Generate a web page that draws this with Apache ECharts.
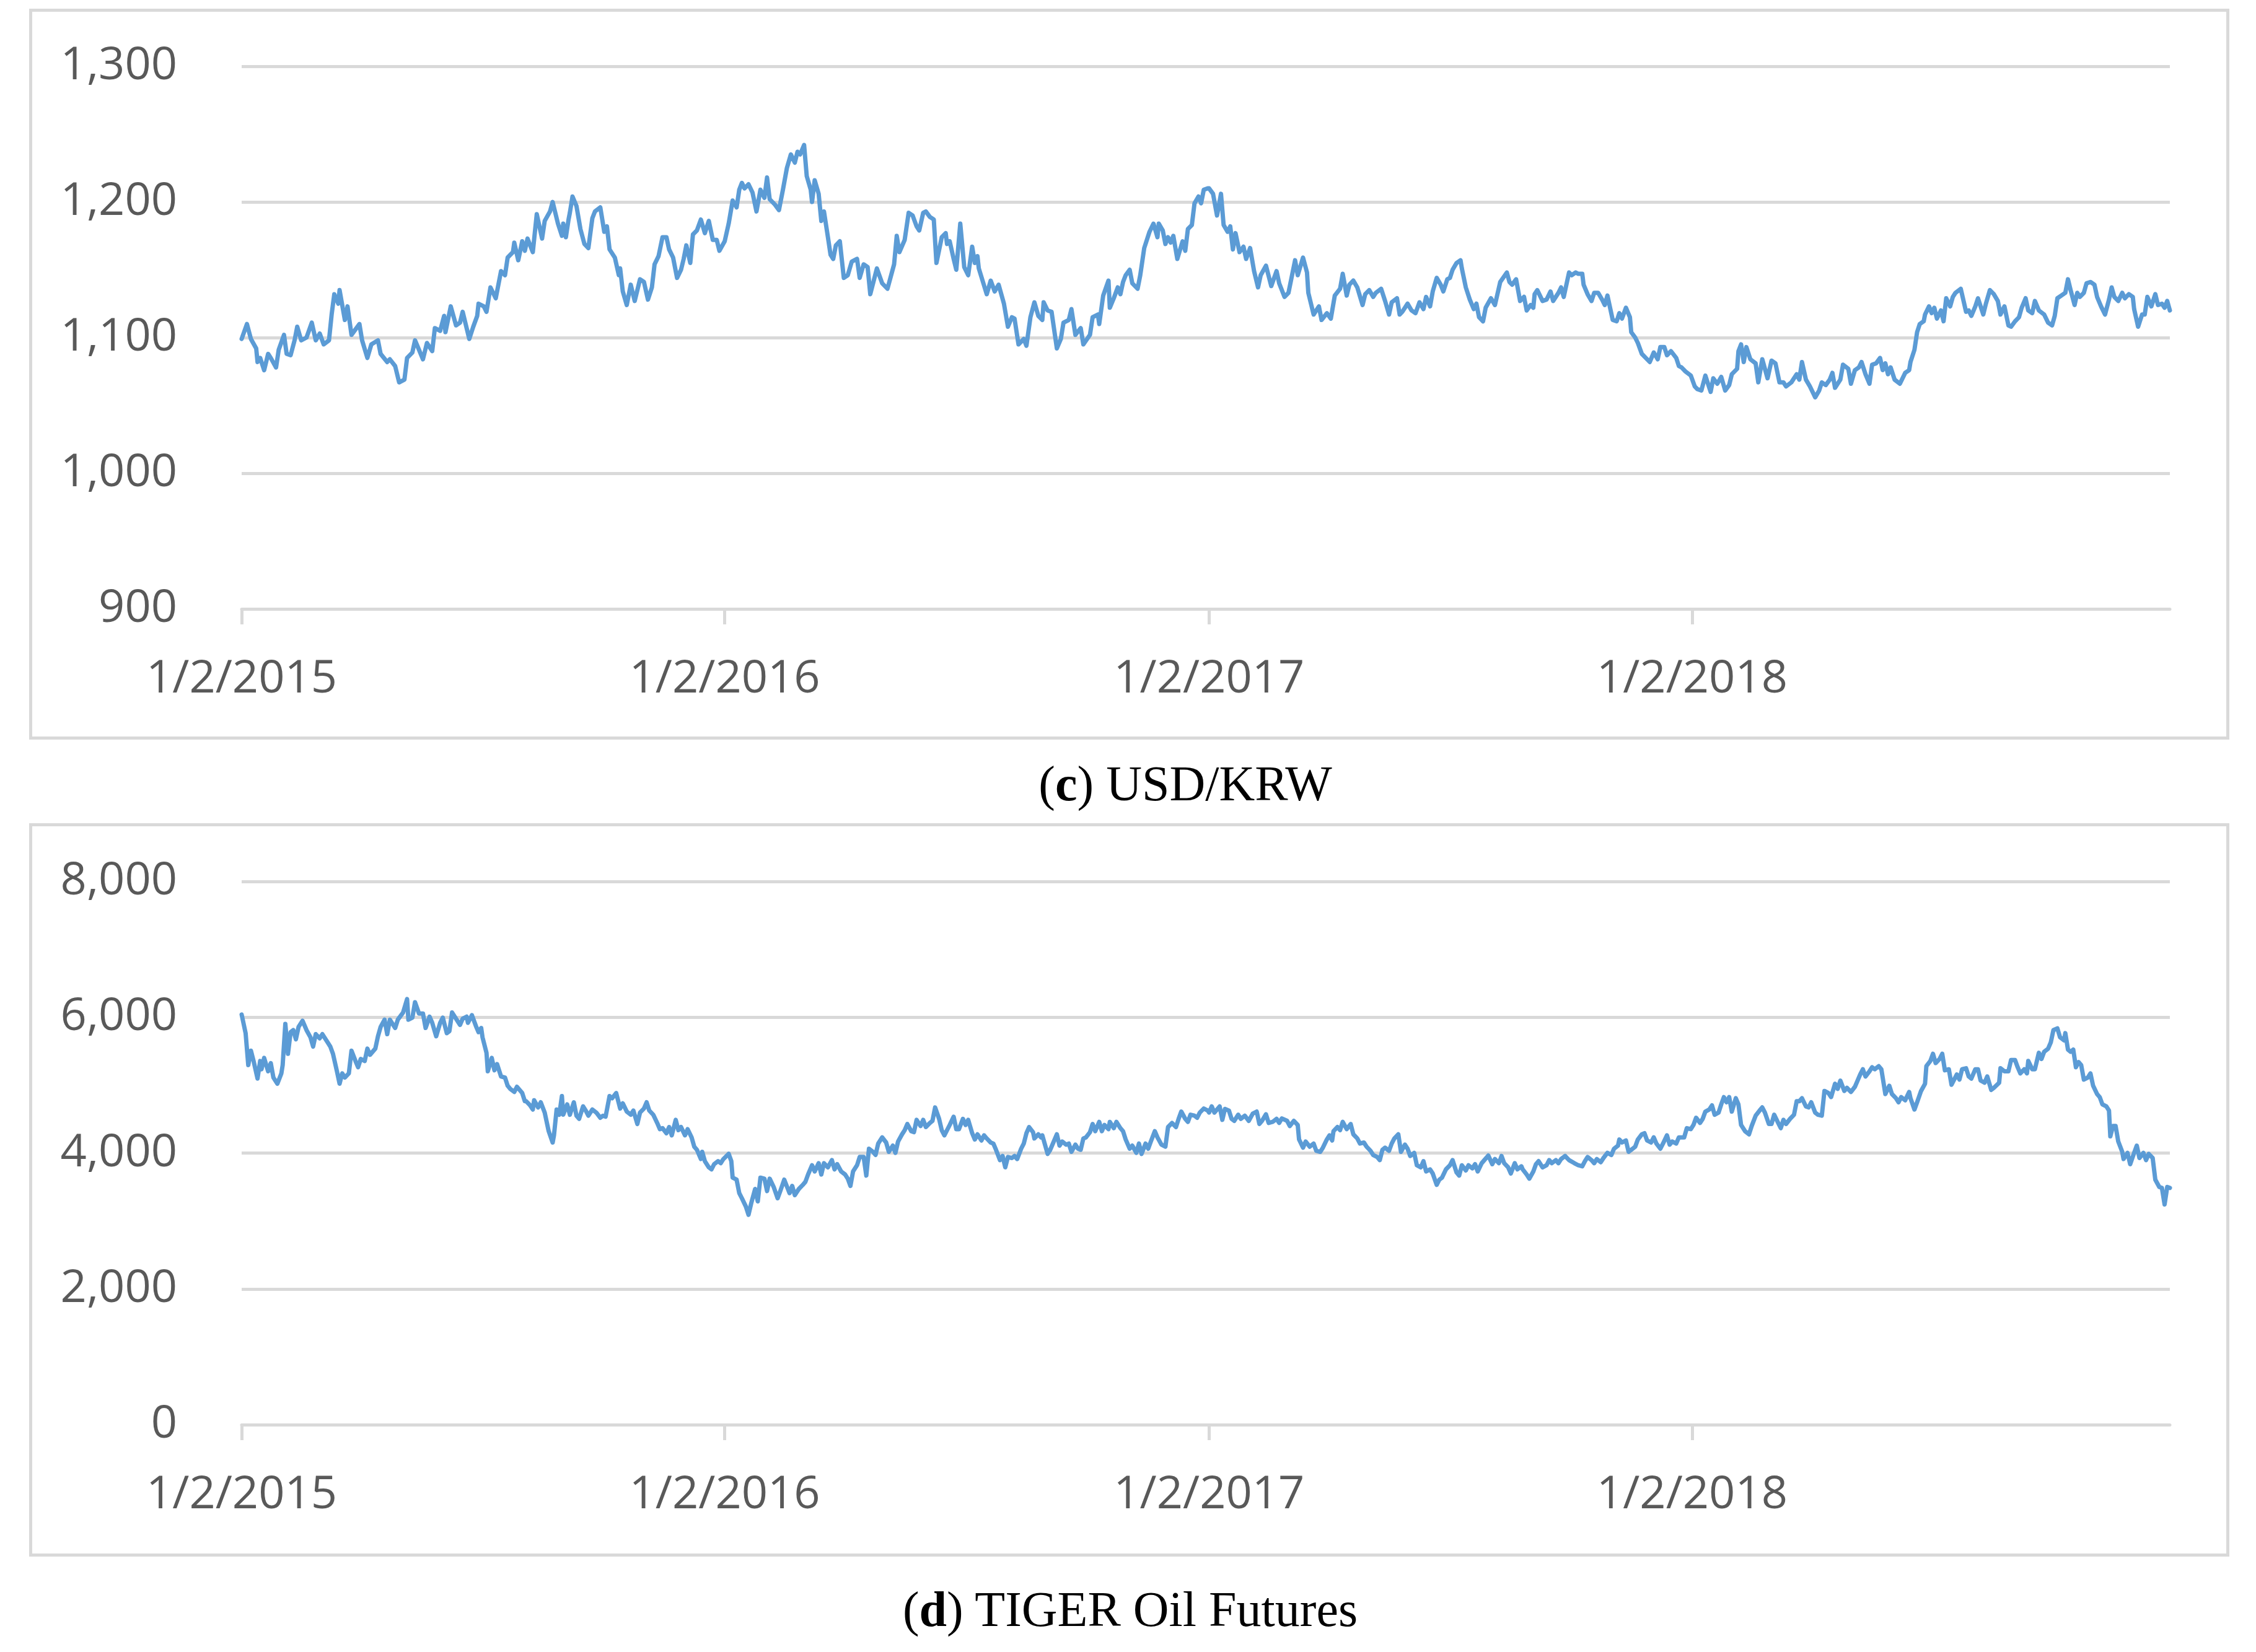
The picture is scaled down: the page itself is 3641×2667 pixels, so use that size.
<!DOCTYPE html>
<html>
<head>
<meta charset="utf-8">
<title>USD/KRW and TIGER Oil Futures</title>
<script src="https://cdn.jsdelivr.net/npm/echarts@6/dist/echarts.min.js"></script>
<style>
  html, body { margin: 0; padding: 0; background: #fff; }
  .page { position: relative; width: 3641px; height: 2667px; }
  /* 两个带灰框的面板 */
  .panel {
    position: absolute;
    left: 47px;
    width: 3551px;
    border: 5px solid #d9d9d9;
    box-sizing: border-box;
  }
  .panel .chart { width: 100%; height: 100%; }
  #panelC { top: 14px; height: 1180px; }
  #panelD { top: 1329px; height: 1184px; }
  .caption {
    position: absolute;
    width: 2000px;
    text-align: center;
    font-family: "Liberation Serif", serif;
    font-size: 80px;
    line-height: 80px;
    color: #000;
  }
  #capC { left: 913px; top: 1225px; }
  #capD { left: 824px; top: 2558px; }
</style>
</head>
<body>
<div class="page">
  <div class="panel" id="panelC"><div class="chart" id="usdChart"></div></div>
  <div class="caption" id="capC">(<b>c</b>) USD/KRW</div>
  <div class="panel" id="panelD"><div class="chart" id="oilChart"></div></div>
  <div class="caption" id="capD">(<b>d</b>) TIGER Oil Futures</div>
</div>

<script>
// x axis
const xTickLabels = ['1/2/2015', '1/2/2016', '1/2/2017', '1/2/2018'];
const xStart = '2015-01-02';
const xEnd = '2018-12-29';

// y axis ticks
const usdTicks = [900, 1000, 1100, 1200, 1300];
const oilTicks = [0, 2000, 4000, 6000, 8000];

// (c) USD/KRW
const usdDates = [
  '2015-01-02','2015-01-06','2015-01-09','2015-01-13','2015-01-14','2015-01-16','2015-01-19','2015-01-22','2015-01-24','2015-01-28','2015-01-30',
  '2015-02-03','2015-02-05','2015-02-08','2015-02-11','2015-02-13','2015-02-16','2015-02-20','2015-02-24','2015-02-27',
  '2015-03-02','2015-03-05','2015-03-09','2015-03-11','2015-03-13','2015-03-16','2015-03-17','2015-03-21','2015-03-23','2015-03-26','2015-03-29',
  '2015-04-01','2015-04-03','2015-04-07','2015-04-10','2015-04-15','2015-04-17','2015-04-22','2015-04-24','2015-04-28',
  '2015-05-01','2015-05-05','2015-05-07','2015-05-11','2015-05-13','2015-05-16','2015-05-19','2015-05-22','2015-05-26','2015-05-28',
  '2015-06-01','2015-06-04','2015-06-05','2015-06-09','2015-06-13','2015-06-16','2015-06-18','2015-06-21','2015-06-23','2015-06-26','2015-06-29','2015-06-30',
  '2015-07-04','2015-07-06','2015-07-09','2015-07-13','2015-07-17','2015-07-20','2015-07-22','2015-07-26','2015-07-27','2015-07-30',
  '2015-08-02','2015-08-04','2015-08-06','2015-08-10','2015-08-13','2015-08-17','2015-08-19','2015-08-23','2015-08-25','2015-08-29',
  '2015-09-01','2015-09-02','2015-09-04','2015-09-06','2015-09-07','2015-09-09','2015-09-12','2015-09-15','2015-09-18','2015-09-21','2015-09-24','2015-09-26','2015-09-30',
  '2015-10-03','2015-10-05','2015-10-07','2015-10-11','2015-10-14','2015-10-15','2015-10-17','2015-10-20','2015-10-23','2015-10-26','2015-10-30',
  '2015-11-02','2015-11-05','2015-11-08','2015-11-10','2015-11-13','2015-11-16','2015-11-19','2015-11-21','2015-11-24','2015-11-27','2015-11-30',
  '2015-12-02','2015-12-04','2015-12-07','2015-12-09','2015-12-12','2015-12-15','2015-12-18','2015-12-21','2015-12-24','2015-12-27','2015-12-29',
  '2016-01-02','2016-01-05','2016-01-08','2016-01-11','2016-01-13','2016-01-15','2016-01-17','2016-01-20','2016-01-23','2016-01-26','2016-01-29',
  '2016-02-01','2016-02-03','2016-02-05','2016-02-09','2016-02-12','2016-02-15','2016-02-18','2016-02-21','2016-02-24','2016-02-26','2016-02-28',
  '2016-03-02','2016-03-04','2016-03-07','2016-03-08','2016-03-10','2016-03-13','2016-03-15','2016-03-17','2016-03-20','2016-03-22','2016-03-24','2016-03-26','2016-03-29',
  '2016-04-01','2016-04-04','2016-04-07','2016-04-11','2016-04-13','2016-04-16','2016-04-19','2016-04-21','2016-04-26','2016-04-30',
  '2016-05-04','2016-05-09','2016-05-11','2016-05-13','2016-05-17','2016-05-20','2016-05-23','2016-05-26','2016-05-28','2016-05-31',
  '2016-06-02','2016-06-05','2016-06-08','2016-06-10','2016-06-14','2016-06-17','2016-06-18','2016-06-20','2016-06-23','2016-06-25','2016-06-28',
  '2016-07-01','2016-07-04','2016-07-07','2016-07-09','2016-07-11','2016-07-12','2016-07-18','2016-07-21','2016-07-24','2016-07-27','2016-07-31',
  '2016-08-03','2016-08-06','2016-08-08','2016-08-11','2016-08-15','2016-08-17','2016-08-20','2016-08-23','2016-08-26','2016-08-29','2016-08-30',
  '2016-09-02','2016-09-05','2016-09-09','2016-09-12','2016-09-14','2016-09-18','2016-09-20','2016-09-23','2016-09-27','2016-09-29',
  '2016-10-04','2016-10-06','2016-10-10','2016-10-11','2016-10-14','2016-10-18','2016-10-19','2016-10-22','2016-10-25','2016-10-27','2016-10-29','2016-10-31',
  '2016-11-03','2016-11-05','2016-11-09','2016-11-11','2016-11-14','2016-11-18','2016-11-21','2016-11-24','2016-11-25','2016-11-28','2016-11-30',
  '2016-12-02','2016-12-04','2016-12-06','2016-12-09','2016-12-13','2016-12-15','2016-12-17','2016-12-20','2016-12-22','2016-12-25','2016-12-27','2016-12-29',
  '2017-01-01','2017-01-02','2017-01-05','2017-01-08','2017-01-11','2017-01-13','2017-01-16','2017-01-18','2017-01-20','2017-01-22','2017-01-25','2017-01-28','2017-01-30',
  '2017-02-02','2017-02-05','2017-02-08','2017-02-10','2017-02-14','2017-02-18','2017-02-22','2017-02-24','2017-02-28',
  '2017-03-03','2017-03-08','2017-03-10','2017-03-14','2017-03-17','2017-03-18','2017-03-22','2017-03-26','2017-03-28',
  '2017-04-01','2017-04-04','2017-04-07','2017-04-11','2017-04-13','2017-04-16','2017-04-18','2017-04-21','2017-04-24','2017-04-28','2017-04-30',
  '2017-05-03','2017-05-06','2017-05-08','2017-05-12','2017-05-15','2017-05-18','2017-05-20','2017-05-24','2017-05-26','2017-05-28',
  '2017-06-01','2017-06-04','2017-06-07','2017-06-10','2017-06-13','2017-06-15','2017-06-18','2017-06-20','2017-06-23','2017-06-26','2017-06-28',
  '2017-07-01','2017-07-03','2017-07-05','2017-07-08','2017-07-11','2017-07-12','2017-07-15','2017-07-18','2017-07-21','2017-07-23','2017-07-25','2017-07-28','2017-07-30',
  '2017-08-03','2017-08-06','2017-08-10','2017-08-15','2017-08-17','2017-08-19','2017-08-22','2017-08-25','2017-08-28','2017-08-30',
  '2017-09-02','2017-09-04','2017-09-05','2017-09-07','2017-09-11','2017-09-14','2017-09-17','2017-09-19','2017-09-23','2017-09-25','2017-09-27',
  '2017-10-01','2017-10-03','2017-10-06','2017-10-08','2017-10-11','2017-10-12','2017-10-15','2017-10-18','2017-10-20','2017-10-23','2017-10-26','2017-10-28','2017-10-30',
  '2017-11-03','2017-11-06','2017-11-08','2017-11-10','2017-11-13','2017-11-16','2017-11-17','2017-11-20','2017-11-22','2017-11-25','2017-11-28',
  '2017-12-01','2017-12-04','2017-12-07','2017-12-09','2017-12-12','2017-12-14','2017-12-17','2017-12-21','2017-12-23','2017-12-25','2017-12-28',
  '2018-01-01','2018-01-04','2018-01-06','2018-01-09','2018-01-12','2018-01-16','2018-01-18','2018-01-21','2018-01-24','2018-01-27','2018-01-30',
  '2018-02-01','2018-02-05','2018-02-06','2018-02-08','2018-02-10','2018-02-12','2018-02-15','2018-02-19','2018-02-21','2018-02-24','2018-02-28',
  '2018-03-03','2018-03-06','2018-03-09','2018-03-12','2018-03-14','2018-03-18','2018-03-22','2018-03-24','2018-03-26','2018-03-29',
  '2018-04-01','2018-04-05','2018-04-08','2018-04-10','2018-04-13','2018-04-16','2018-04-18','2018-04-20','2018-04-24','2018-04-26','2018-04-30',
  '2018-05-02','2018-05-05','2018-05-08','2018-05-10','2018-05-13','2018-05-16','2018-05-18','2018-05-21','2018-05-24','2018-05-26','2018-05-28','2018-05-30',
  '2018-06-01','2018-06-04','2018-06-08','2018-06-12','2018-06-15','2018-06-16','2018-06-19','2018-06-21','2018-06-23','2018-06-26','2018-06-27','2018-06-30',
  '2018-07-02','2018-07-04','2018-07-06','2018-07-09','2018-07-11','2018-07-13','2018-07-16','2018-07-18','2018-07-20','2018-07-24','2018-07-28','2018-07-30',
  '2018-08-01','2018-08-04','2018-08-06','2018-08-10','2018-08-12','2018-08-15','2018-08-18','2018-08-21','2018-08-23','2018-08-26','2018-08-29','2018-08-31',
  '2018-09-03','2018-09-06','2018-09-08','2018-09-11','2018-09-13','2018-09-16','2018-09-18','2018-09-21','2018-09-25','2018-09-28',
  '2018-10-01','2018-10-03','2018-10-05','2018-10-08','2018-10-11','2018-10-13','2018-10-15','2018-10-18','2018-10-20','2018-10-22','2018-10-25','2018-10-27','2018-10-30',
  '2018-11-02','2018-11-04','2018-11-07','2018-11-10','2018-11-13','2018-11-15','2018-11-17','2018-11-20','2018-11-23','2018-11-25','2018-11-28',
  '2018-12-01','2018-12-02','2018-12-05','2018-12-08','2018-12-10','2018-12-12','2018-12-15','2018-12-18','2018-12-20','2018-12-23','2018-12-25','2018-12-27','2018-12-29'
];
const usdKrw = [
  1099,1110,1099,1092,1082,1085,1076,1088,1085,1078,1091,
  1102,1088,1087,1098,1108,1098,1100,1111,1098,
  1103,1095,1098,1117,1132,1125,1135,1113,1123,1102,1106,
  1110,1098,1085,1095,1098,1088,1082,1084,1079,
  1067,1069,1085,1089,1098,1091,1084,1096,1090,1107,
  1105,1116,1104,1123,1109,1111,1119,1107,1099,1108,1116,1125,
  1123,1119,1137,1129,1149,1146,1159,1163,1170,1157,
  1171,1164,1173,1163,1191,1173,1186,1193,1200,1184,
  1175,1184,1174,1187,1192,1204,1197,1180,1169,1166,1188,1193,1196,
  1178,1182,1165,1159,1146,1151,1134,1124,1139,1127,1143,
  1141,1128,1137,1154,1160,1174,1174,1165,1159,1144,1150,
  1158,1168,1155,1176,1179,1187,1177,1186,1172,1172,1164,
  1171,1184,1201,1196,1209,1214,1210,1213,1207,1193,1209,
  1203,1218,1202,1198,1194,1209,1225,1235,1229,1237,1235,
  1242,1219,1209,1200,1216,1206,1186,1193,1174,1161,1158,1168,1171,
  1144,1146,1156,1158,1144,1154,1152,1132,1151,1140,
  1136,1154,1175,1163,1172,1192,1190,1182,1179,1192,
  1193,1189,1187,1155,1174,1177,1169,1171,1158,1150,1184,
  1152,1146,1167,1155,1160,1151,1132,1142,1134,1139,1125,
  1108,1115,1114,1095,1099,1094,1115,1126,1116,1113,1126,
  1120,1119,1092,1099,1111,1113,1121,1102,1107,1095,
  1102,1115,1117,1110,1131,1142,1122,1129,1137,1132,1141,1146,
  1150,1140,1136,1146,1166,1178,1184,1174,1184,1179,1169,
  1174,1170,1175,1158,1171,1164,1180,1183,1199,1204,1199,1209,
  1210,1210,1206,1190,1206,1183,1178,1182,1165,1177,1163,1167,1158,
  1166,1149,1137,1146,1153,1138,1149,1140,1130,
  1133,1157,1146,1159,1148,1133,1117,1123,1113,
  1118,1114,1131,1136,1147,1131,1139,1142,1137,1124,1132,
  1135,1130,1133,1136,1127,1117,1126,1129,1117,1119,
  1125,1120,1118,1126,1121,1130,1123,1134,1144,1139,1134,
  1143,1144,1150,1155,1157,1151,1137,1128,1121,1125,1115,1112,1122,
  1129,1124,1141,1148,1141,1139,1143,1127,1130,1120,
  1124,1122,1132,1135,1127,1128,1134,1127,1133,1137,1130,
  1148,1146,1148,1147,1147,1139,1132,1127,1133,1133,1128,1124,1131,
  1113,1112,1118,1114,1122,1115,1104,1100,1096,1088,1085,
  1082,1089,1084,1093,1093,1087,1090,1085,1079,1078,1075,
  1072,1064,1062,1061,1072,1060,1070,1066,1071,1061,1065,
  1073,1077,1090,1095,1082,1093,1084,1081,1067,1084,1070,
  1083,1081,1067,1067,1064,1067,1073,1069,1082,1069,
  1064,1056,1061,1067,1065,1069,1074,1063,1069,1080,1077,
  1066,1076,1078,1082,1073,1066,1080,1081,1085,1076,1081,1073,
  1078,1069,1066,1074,1076,1082,1091,1104,1110,1112,1117,1123,
  1118,1122,1114,1120,1112,1129,1123,1130,1133,1136,1119,1120,
  1116,1123,1129,1117,1125,1135,1132,1127,1117,1123,1109,1108,
  1112,1115,1122,1129,1120,1118,1127,1120,1117,1111,
  1109,1116,1129,1131,1133,1143,1135,1124,1133,1130,1133,1140,1141,
  1139,1130,1123,1117,1128,1137,1130,1127,1133,1129,1132,
  1130,1121,1108,1117,1117,1130,1123,1132,1124,1125,1122,1127,1120
];

// (d) TIGER Oil Futures
const oilDates = [
  '2015-01-02','2015-01-05','2015-01-07','2015-01-09','2015-01-11','2015-01-14','2015-01-16','2015-01-17','2015-01-19','2015-01-22','2015-01-24','2015-01-26','2015-01-29',
  '2015-02-01','2015-02-02','2015-02-04','2015-02-06','2015-02-08','2015-02-10','2015-02-12','2015-02-14','2015-02-17','2015-02-20','2015-02-23','2015-02-25','2015-02-27',
  '2015-03-02','2015-03-04','2015-03-08','2015-03-10','2015-03-12','2015-03-15','2015-03-17','2015-03-19','2015-03-21','2015-03-24','2015-03-26','2015-03-29','2015-03-31',
  '2015-04-02','2015-04-05','2015-04-07','2015-04-09','2015-04-13','2015-04-15','2015-04-17','2015-04-20','2015-04-22','2015-04-24','2015-04-28','2015-04-30',
  '2015-05-04','2015-05-07','2015-05-08','2015-05-11','2015-05-13','2015-05-16','2015-05-19','2015-05-21','2015-05-24','2015-05-26','2015-05-29',
  '2015-06-01','2015-06-03','2015-06-06','2015-06-08','2015-06-10','2015-06-13','2015-06-16','2015-06-18','2015-06-21','2015-06-22','2015-06-25','2015-06-28','2015-06-30',
  '2015-07-02','2015-07-03','2015-07-06','2015-07-07','2015-07-10','2015-07-12','2015-07-14','2015-07-17','2015-07-20','2015-07-22','2015-07-24','2015-07-27','2015-07-29',
  '2015-08-02','2015-08-04','2015-08-05','2015-08-08','2015-08-10','2015-08-11','2015-08-14','2015-08-16','2015-08-19','2015-08-22','2015-08-25','2015-08-26','2015-08-28','2015-08-30',
  '2015-09-01','2015-09-02','2015-09-05','2015-09-07','2015-09-10','2015-09-12','2015-09-14','2015-09-17','2015-09-19','2015-09-21','2015-09-24','2015-09-27','2015-09-30',
  '2015-10-02','2015-10-04','2015-10-07','2015-10-09','2015-10-12','2015-10-15','2015-10-17','2015-10-20','2015-10-23','2015-10-25','2015-10-28','2015-10-30',
  '2015-11-02','2015-11-04','2015-11-06','2015-11-09','2015-11-12','2015-11-14','2015-11-16','2015-11-19','2015-11-21','2015-11-23','2015-11-26','2015-11-28','2015-11-30',
  '2015-12-03','2015-12-05','2015-12-08','2015-12-10','2015-12-12','2015-12-15','2015-12-16','2015-12-18','2015-12-21','2015-12-23','2015-12-25','2015-12-28','2015-12-30',
  '2016-01-01','2016-01-05','2016-01-07','2016-01-08','2016-01-11','2016-01-13','2016-01-15','2016-01-18','2016-01-20','2016-01-22','2016-01-25','2016-01-27','2016-01-29',
  '2016-02-01','2016-02-03','2016-02-05','2016-02-08','2016-02-11','2016-02-13','2016-02-16','2016-02-20','2016-02-22','2016-02-24','2016-02-27',
  '2016-03-01','2016-03-03','2016-03-05','2016-03-08','2016-03-10','2016-03-13','2016-03-15','2016-03-17','2016-03-20','2016-03-23','2016-03-25','2016-03-27','2016-03-30',
  '2016-04-02','2016-04-04','2016-04-06','2016-04-08','2016-04-11','2016-04-13','2016-04-16','2016-04-18','2016-04-20','2016-04-23','2016-04-25','2016-04-27','2016-04-30',
  '2016-05-03','2016-05-05','2016-05-08','2016-05-10','2016-05-12','2016-05-15','2016-05-17','2016-05-19','2016-05-22','2016-05-24','2016-05-26','2016-05-29','2016-05-31',
  '2016-06-02','2016-06-05','2016-06-07','2016-06-09','2016-06-12','2016-06-14','2016-06-16','2016-06-20','2016-06-23','2016-06-25','2016-06-27','2016-06-30',
  '2016-07-02','2016-07-04','2016-07-07','2016-07-09','2016-07-11','2016-07-14','2016-07-16','2016-07-18','2016-07-21','2016-07-23','2016-07-25','2016-07-28','2016-07-30',
  '2016-08-01','2016-08-03','2016-08-06','2016-08-08','2016-08-10','2016-08-13','2016-08-15','2016-08-17','2016-08-19','2016-08-22','2016-08-23','2016-08-26','2016-08-28','2016-08-29',
  '2016-09-02','2016-09-04','2016-09-06','2016-09-09','2016-09-11','2016-09-13','2016-09-16','2016-09-18','2016-09-20','2016-09-23','2016-09-25','2016-09-27','2016-09-29',
  '2016-10-01','2016-10-04','2016-10-06','2016-10-08','2016-10-11','2016-10-13','2016-10-15','2016-10-18','2016-10-19','2016-10-22','2016-10-24','2016-10-27','2016-10-29','2016-10-31',
  '2016-11-03','2016-11-05','2016-11-08','2016-11-10','2016-11-12','2016-11-15','2016-11-17','2016-11-19','2016-11-22','2016-11-24','2016-11-27','2016-11-30',
  '2016-12-02','2016-12-05','2016-12-08','2016-12-10','2016-12-12','2016-12-15','2016-12-17','2016-12-19','2016-12-22','2016-12-24','2016-12-26','2016-12-29',
  '2017-01-01','2017-01-02','2017-01-04','2017-01-06','2017-01-10','2017-01-12','2017-01-14','2017-01-17','2017-01-19','2017-01-21','2017-01-24','2017-01-26','2017-01-29',
  '2017-02-01','2017-02-04','2017-02-07','2017-02-09','2017-02-11','2017-02-14','2017-02-16','2017-02-19','2017-02-22','2017-02-24','2017-02-26',
  '2017-03-02','2017-03-04','2017-03-07','2017-03-10','2017-03-11','2017-03-14','2017-03-16','2017-03-19','2017-03-22','2017-03-24','2017-03-27','2017-03-29',
  '2017-04-01','2017-04-03','2017-04-05','2017-04-06','2017-04-09','2017-04-11','2017-04-13','2017-04-16','2017-04-19','2017-04-21','2017-04-24','2017-04-26','2017-04-29',
  '2017-05-01','2017-05-04','2017-05-06','2017-05-09','2017-05-11','2017-05-13','2017-05-15','2017-05-18','2017-05-20','2017-05-22','2017-05-25','2017-05-27','2017-05-30',
  '2017-06-01','2017-06-03','2017-06-06','2017-06-08','2017-06-11','2017-06-13','2017-06-15','2017-06-18','2017-06-20','2017-06-23','2017-06-25','2017-06-27','2017-06-30',
  '2017-07-03','2017-07-05','2017-07-08','2017-07-10','2017-07-12','2017-07-15','2017-07-17','2017-07-20','2017-07-22','2017-07-24','2017-07-27','2017-07-29',
  '2017-08-01','2017-08-04','2017-08-06','2017-08-09','2017-08-11','2017-08-13','2017-08-16','2017-08-18','2017-08-21','2017-08-23','2017-08-26','2017-08-27','2017-08-30',
  '2017-09-01','2017-09-04','2017-09-06','2017-09-08','2017-09-11','2017-09-14','2017-09-16','2017-09-18','2017-09-21','2017-09-23','2017-09-25','2017-09-28',
  '2017-10-01','2017-10-05','2017-10-08','2017-10-11','2017-10-13','2017-10-15','2017-10-18','2017-10-20','2017-10-22','2017-10-25','2017-10-27','2017-10-30',
  '2017-11-02','2017-11-04','2017-11-07','2017-11-08','2017-11-10','2017-11-13','2017-11-15','2017-11-17','2017-11-20','2017-11-22','2017-11-25','2017-11-27','2017-11-29',
  '2017-12-02','2017-12-04','2017-12-06','2017-12-09','2017-12-11','2017-12-14','2017-12-16','2017-12-18','2017-12-21','2017-12-23','2017-12-27','2017-12-29',
  '2018-01-01','2018-01-03','2018-01-05','2018-01-08','2018-01-10','2018-01-12','2018-01-15','2018-01-17','2018-01-19','2018-01-22','2018-01-24','2018-01-26','2018-01-28','2018-01-30',
  '2018-02-01','2018-02-04','2018-02-06','2018-02-08','2018-02-11','2018-02-14','2018-02-16','2018-02-19','2018-02-22','2018-02-24','2018-02-26',
  '2018-03-01','2018-03-03','2018-03-05','2018-03-08','2018-03-10','2018-03-12','2018-03-14','2018-03-17','2018-03-20','2018-03-22','2018-03-24','2018-03-26','2018-03-29','2018-03-31',
  '2018-04-02','2018-04-05','2018-04-07','2018-04-10','2018-04-12','2018-04-15','2018-04-17','2018-04-20','2018-04-22','2018-04-24','2018-04-27','2018-04-29',
  '2018-05-02','2018-05-05','2018-05-07','2018-05-09','2018-05-11','2018-05-13','2018-05-16','2018-05-18','2018-05-20','2018-05-23','2018-05-25','2018-05-28','2018-05-31',
  '2018-06-02','2018-06-05','2018-06-07','2018-06-09','2018-06-12','2018-06-15','2018-06-16','2018-06-19','2018-06-21','2018-06-24','2018-06-27','2018-06-28',
  '2018-07-01','2018-07-03','2018-07-05','2018-07-08','2018-07-10','2018-07-12','2018-07-15','2018-07-17','2018-07-21','2018-07-23','2018-07-25','2018-07-28','2018-07-30',
  '2018-08-01','2018-08-04','2018-08-06','2018-08-08','2018-08-11','2018-08-13','2018-08-16','2018-08-18','2018-08-22','2018-08-23','2018-08-26','2018-08-29','2018-08-31',
  '2018-09-03','2018-09-05','2018-09-07','2018-09-10','2018-09-12','2018-09-13','2018-09-16','2018-09-18','2018-09-21','2018-09-23','2018-09-25','2018-09-28','2018-09-30',
  '2018-10-02','2018-10-05','2018-10-07','2018-10-10','2018-10-11','2018-10-13','2018-10-15','2018-10-17','2018-10-19','2018-10-21','2018-10-23','2018-10-25','2018-10-28','2018-10-30',
  '2018-11-01','2018-11-04','2018-11-06','2018-11-08','2018-11-11','2018-11-13','2018-11-14','2018-11-16','2018-11-18','2018-11-20','2018-11-23','2018-11-24','2018-11-27','2018-11-29',
  '2018-12-02','2018-12-04','2018-12-06','2018-12-09','2018-12-11','2018-12-13','2018-12-16','2018-12-18','2018-12-21','2018-12-23','2018-12-25','2018-12-27','2018-12-29'
];
const tigerOil = [
  6040,5766,5295,5508,5356,5097,5356,5234,5401,5204,5325,5112,5021,
  5173,5295,5903,5462,5781,5811,5675,5857,5948,5811,5705,5568,5751,
  5690,5751,5629,5568,5462,5204,5021,5173,5112,5173,5508,5356,5264,
  5386,5356,5538,5447,5538,5720,5857,5964,5751,5964,5842,5964,
  6070,6268,5964,5994,6222,6055,6055,5842,6009,5918,5720,
  5918,5994,5766,5796,6070,5979,5888,5979,6009,5918,6030,5872,5781,
  5842,5705,5477,5204,5401,5219,5310,5128,5112,4991,4945,4900,4976,
  4884,4763,4763,4702,4641,4778,4672,4748,4596,4322,4155,4261,4641,4565,
  4839,4565,4717,4565,4748,4550,4504,4687,4626,4550,4641,4596,4520,
  4550,4535,4839,4808,4884,4656,4732,4611,4565,4626,4428,4596,
  4656,4748,4626,4565,4443,4352,4367,4292,4383,4261,4489,4337,4383,
  4261,4352,4231,4094,4048,3912,4018,3881,3790,3760,3836,3881,3851,
  3912,3988,3881,3638,3608,3410,3334,3212,3091,3258,3471,3288,3638,
  3623,3440,3623,3501,3334,3440,3608,3410,3516,3380,3471,
  3531,3577,3684,3820,3729,3851,3684,3851,3790,3896,3760,3836,3729,
  3684,3623,3516,3729,3820,3942,3942,3668,4064,4018,3972,4140,4231,
  4155,4018,4109,4003,4170,4276,4337,4428,4322,4307,4489,4398,4489,
  4383,4443,4474,4672,4504,4337,4261,4413,4535,4352,4352,4504,
  4413,4489,4292,4200,4276,4185,4261,4215,4155,4140,4048,3896,3957,
  3790,3942,3927,3957,3912,4064,4140,4292,4383,4307,4215,4276,4231,4261,
  3988,4048,4140,4276,4109,4170,4124,4140,4018,4124,4064,4048,4215,
  4231,4307,4428,4322,4459,4322,4413,4352,4459,4367,4459,4367,4322,4200,
  4064,4109,4003,4140,3988,4140,4064,4170,4322,4231,4124,4094,
  4383,4443,4383,4504,4611,4504,4459,4565,4550,4520,4596,4656,
  4626,4596,4687,4596,4687,4489,4650,4626,4504,4474,4565,4504,4550,
  4474,4580,4611,4428,4474,4571,4444,4459,4504,4444,4510,
  4474,4398,4474,4413,4200,4079,4170,4094,4140,4033,4018,4079,
  4200,4261,4185,4322,4383,4337,4459,4352,4428,4276,4215,4140,4155,
  4094,4033,3972,3942,3896,4048,4079,4033,4140,4215,4276,4018,4124,
  4064,3957,4003,3820,3790,3881,3729,3760,3699,3532,3608,3638,3760,
  3820,3896,3714,3668,3820,3744,3820,3775,3836,3729,3851,3896,
  3963,3836,3912,3851,3957,3851,3790,3699,3851,3760,3805,3760,3684,
  3623,3729,3836,3881,3790,3820,3896,3851,3896,3851,3912,3957,
  3896,3851,3820,3805,3881,3942,3896,3851,3912,3866,3927,4003,
  3972,4064,4109,4200,4155,4185,4018,4048,4094,4200,4276,4292,4185,
  4155,4231,4140,4064,4140,4261,4124,4170,4140,4231,4231,4367,
  4352,4413,4520,4444,4504,4611,4641,4702,4565,4596,4717,4824,4748,4824,
  4611,4808,4717,4413,4322,4276,4398,4550,4626,4672,4596,
  4428,4428,4565,4444,4367,4489,4428,4504,4565,4763,4763,4808,4687,4672,
  4748,4596,4565,4550,4915,4884,4824,5021,4945,5067,4915,4960,
  4900,4976,5067,5158,5234,5128,5204,5264,5234,5280,5234,4869,4991,
  4869,4808,4748,4824,4778,4900,4808,4641,4748,4915,5021,5280,
  5356,5462,5325,5386,5462,5219,5234,5006,5158,5082,5234,5249,5128,
  5097,5234,5234,5067,5036,5128,4930,4960,5036,5249,5204,5204,5371,
  5371,5264,5173,5234,5173,5356,5234,5234,5477,5386,5492,5538,5629,
  5811,5836,5705,5660,5766,5523,5492,5523,5264,5340,5295,5082,5112,5173,
  4991,4869,4824,4717,4687,4626,4246,4398,4398,4170,4018,3912,4003,3836,
  4003,4109,3927,4003,3896,3988,3927,3608,3501,3486,3243,3501,3486
];

function toTime(s) {
  // 'YYYY-MM-DD' 或 'M/D/YYYY' -> 本地时间戳
  let y, m, d;
  if (s.indexOf('/') > 0) {
    [m, d, y] = s.split('/').map(Number);
  } else {
    [y, m, d] = s.split('-').map(Number);
  }
  return new Date(y, m - 1, d).getTime();
}

const tickTimes = xTickLabels.map(toTime);
const gridLine = '#d9d9d9';
const labelColor = '#595959';

function drawLine(domId, dates, values, yTicks, gridTop, gridHeight) {
  const chart = echarts.init(document.getElementById(domId));
  chart.setOption({
    animation: false,
    grid: {
      left: 338,
      top: gridTop,
      width: 3112,
      height: gridHeight
    },
    // 日期轴：用时间戳的数值轴，刻度放在每年 1/2
    xAxis: {
      type: 'value',
      min: toTime(xStart),
      max: toTime(xEnd),
      axisLine: {
        show: true,
        lineStyle: { color: gridLine, width: 5 }
      },
      axisTick: {
        show: true,
        length: 25,
        customValues: tickTimes,
        lineStyle: { color: gridLine, width: 5 }
      },
      axisLabel: {
        customValues: tickTimes,
        formatter: function (v) {
          const i = tickTimes.indexOf(v);
          return i >= 0 ? xTickLabels[i] : '';
        },
        margin: 77,
        fontSize: 74,
        fontFamily: 'Open Sans',
        color: labelColor
      },
      splitLine: { show: false }
    },
    yAxis: {
      type: 'value',
      min: yTicks[0],
      max: yTicks[yTicks.length - 1],
      interval: yTicks[1] - yTicks[0],
      axisLine: { show: false },
      axisTick: { show: false },
      axisLabel: {
        formatter: v => v.toLocaleString('en-US'),
        margin: 104,
        fontSize: 74,
        fontFamily: 'Open Sans',
        color: labelColor
      },
      splitLine: {
        lineStyle: { color: gridLine, width: 5 }
      }
    },
    series: [{
      type: 'line',
      showSymbol: false,
      symbol: 'none',
      silent: true,
      lineStyle: { color: '#5b9bd5', width: 7, join: 'round', cap: 'round' },
      data: dates.map((d, i) => [toTime(d), values[i]])
    }]
  });
}

drawLine('usdChart', usdDates, usdKrw, usdTicks, 88, 876);
drawLine('oilChart', oilDates, tigerOil, oilTicks, 89, 877);
</script>
</body>
</html>
